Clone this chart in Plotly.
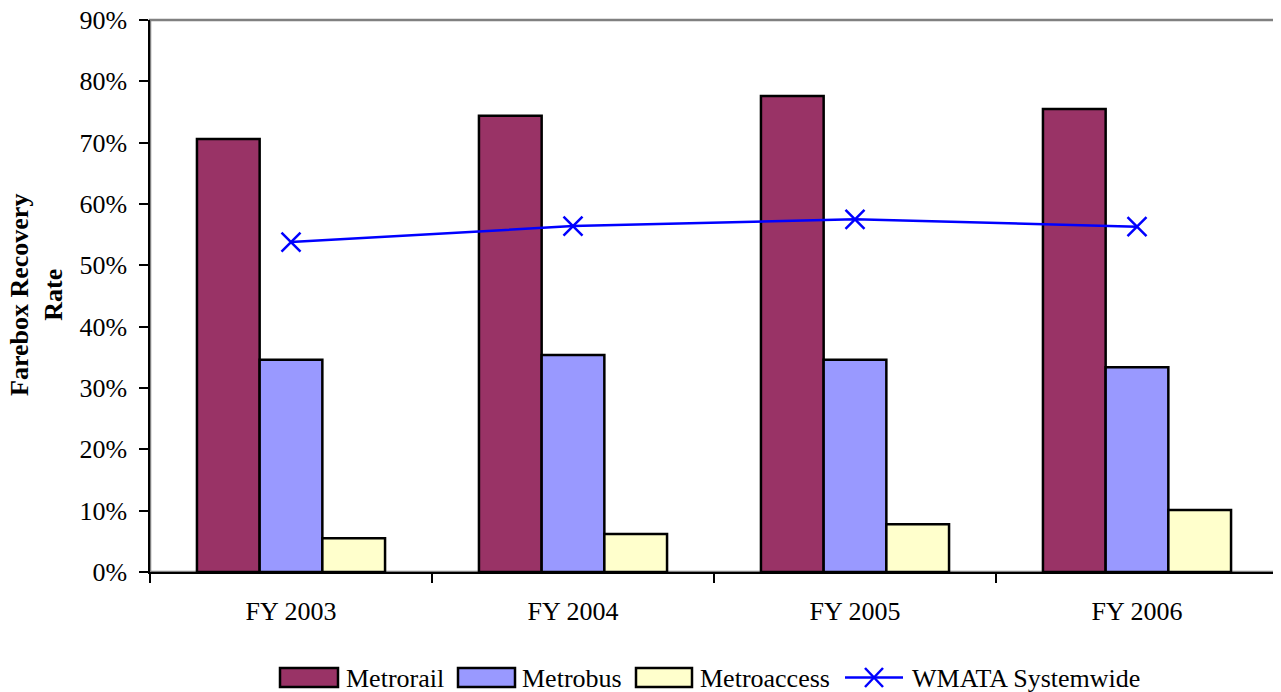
import plotly.graph_objects as go

categories = ["FY 2003", "FY 2004", "FY 2005", "FY 2006"]
metrorail = [0.706, 0.744, 0.776, 0.755]
metrobus = [0.346, 0.354, 0.346, 0.334]
metroaccess = [0.055, 0.062, 0.078, 0.101]
systemwide = [0.538, 0.564, 0.575, 0.563]
y_ticks = [0, 0.1, 0.2, 0.3, 0.4, 0.5, 0.6, 0.7, 0.8, 0.9]

FONT = "Liberation Serif, Times New Roman, serif"
FS = 26
OFF = 8  # page body margin offset
W, H = 1281 - OFF, 692 - OFF
ML, MR, MT, MB = 150 - OFF, 3, 20 - OFF, 120
PW, PH = W - ML - MR, H - MT - MB

bar_series = [("Metrorail", metrorail, "#993366"),
              ("Metrobus", metrobus, "#9999FF"),
              ("Metroaccess", metroaccess, "#FFFFCC")]

fig = go.Figure()
for name, vals, color in bar_series:
    fig.add_trace(go.Bar(x=categories, y=vals, name=name,
                         marker=dict(color=color, line=dict(color="black", width=2.5))))

fig.add_trace(go.Scatter(x=categories, y=systemwide, name="WMATA Systemwide",
                         mode="lines+markers",
                         line=dict(color="#0000FF", width=2.5),
                         marker=dict(symbol="x-thin", size=19,
                                     line=dict(color="#0000FF", width=2.5))))

# plot-area border (grey top/right)
fig.add_shape(type="rect", xref="paper", yref="paper", x0=0, x1=1, y0=0, y1=1,
              line=dict(color="#808080", width=2.5), layer="below")


def px(x):
    return (x - OFF - ML) / PW


def py(y):
    return (OFF + H - MB - y) / PH


# manual legend (wide swatches like the original)
legend_items = [
    ("Metrorail", "#993366", 280, 338, 344),
    ("Metrobus", "#9999FF", 458, 515, 520),
    ("Metroaccess", "#FFFFCC", 636, 692, 698),
]
LY0, LY1, LYC = 668, 687, 677.5
for label, color, x0, x1, tx in legend_items:
    fig.add_shape(type="rect", xref="paper", yref="paper",
                  x0=px(x0), x1=px(x1), y0=py(LY1), y1=py(LY0),
                  fillcolor=color, line=dict(color="black", width=2.5))
    fig.add_annotation(xref="paper", yref="paper", x=px(tx), y=py(LYC),
                       text=label, showarrow=False, xanchor="left", yanchor="middle",
                       yshift=-1, font=dict(family=FONT, size=FS, color="black"))

fig.add_shape(type="line", xref="paper", yref="paper",
              x0=px(845), x1=px(903), y0=py(LYC), y1=py(LYC),
              line=dict(color="#0000FF", width=2.5))
for a, b in [((865, 668), (883, 687)), ((865, 687), (883, 668))]:
    fig.add_shape(type="line", xref="paper", yref="paper",
                  x0=px(a[0]), y0=py(a[1]), x1=px(b[0]), y1=py(b[1]),
                  line=dict(color="#0000FF", width=2.5))
fig.add_annotation(xref="paper", yref="paper", x=px(910), y=py(LYC),
                   text="WMATA Systemwide", showarrow=False, xanchor="left",
                   yanchor="middle", yshift=-1,
                   font=dict(family=FONT, size=FS, color="black"))

# y-axis title
fig.add_annotation(xref="paper", yref="paper", x=px(36), y=py(295),
                   text="<b>Farebox Recovery<br>Rate</b>", textangle=-90,
                   showarrow=False, xanchor="center", yanchor="middle",
                   borderpad=0,
                   font=dict(family=FONT, size=FS, color="black"))

fig.update_layout(
    width=W, height=H,
    margin=dict(l=ML, r=MR, t=MT, b=MB, autoexpand=False),
    paper_bgcolor="white", plot_bgcolor="white",
    font=dict(family=FONT, size=FS, color="black"),
    barmode="group", bargap=0.333, bargroupgap=0,
    showlegend=False,
    xaxis=dict(showline=True, linecolor="black", linewidth=1.5,
               ticks="outside", ticklen=9, tickcolor="black", tickwidth=1.5,
               tickson="boundaries", showgrid=False, zeroline=False,
               automargin=False, ticklabelstandoff=15,
               ticklabeloverflow="allow",
               tickfont=dict(family=FONT, size=FS)),
    yaxis=dict(range=[0, 0.9], tickvals=y_ticks, tickformat=".0%",
               showline=True, linecolor="black", linewidth=1.5,
               ticks="outside", ticklen=9, tickcolor="black", tickwidth=1.5,
               showgrid=False, zeroline=False, automargin=False,
               ticklabelstandoff=7, ticklabeloverflow="allow",
               tickfont=dict(family=FONT, size=FS)),
)

fig.write_html("out.html")
